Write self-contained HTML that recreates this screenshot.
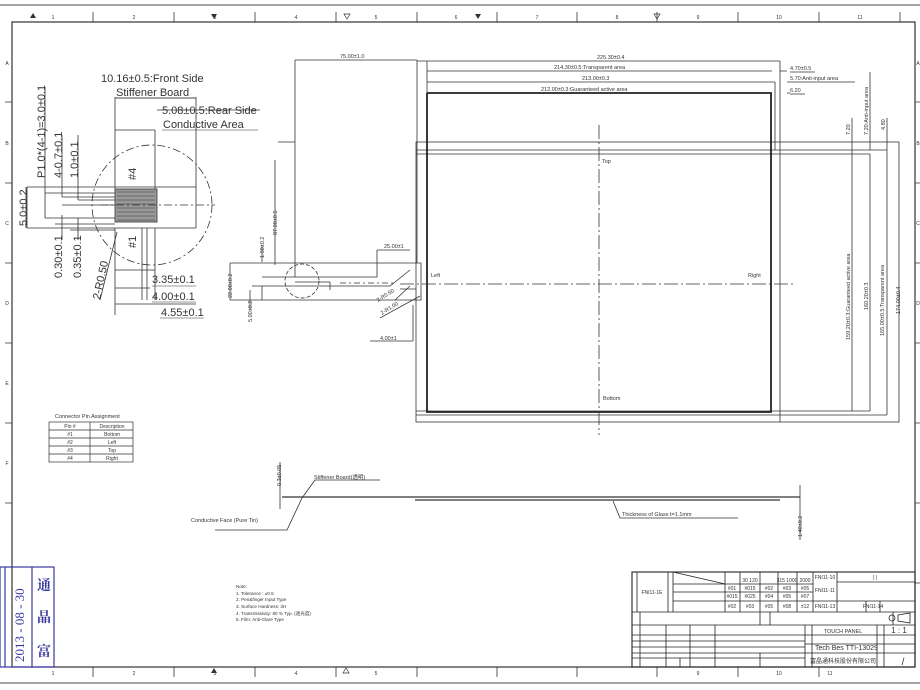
<!DOCTYPE html>
<html><head><meta charset="utf-8"><style>
html,body{margin:0;padding:0;background:#fff;}
svg{display:block;}
text{font-family:"Liberation Sans","Noto Sans CJK SC",sans-serif;fill:#333;}
</style></head><body>
<svg width="920" height="690" viewBox="0 0 920 690" xmlns="http://www.w3.org/2000/svg">
<rect width="920" height="690" fill="#fff"/>
<g stroke="#333" fill="none" stroke-width="0.8">
<line x1="0" y1="5" x2="920" y2="5" stroke="#888" stroke-width="1.5"/>
<line x1="0" y1="683" x2="920" y2="683" stroke="#888" stroke-width="1.5"/>
<rect x="12" y="22" width="903" height="645" stroke-width="1.2"/>
<path d="M93 12V22M174 12V22M255 12V22M336 12V22M417 12V22M497 12V22M577 12V22M657 12V22M738 12V22M819 12V22M900 12V22"/>
<path d="M93 667V677M174 667V677M255 667V677M336 667V677M417 667V677M497 667V677M577 667V677M657 667V677M738 667V677M819 667V677"/>
<path d="M5 102H12M5 183H12M5 263H12M5 343H12M5 423H12M5 503H12M915 102H920M915 183H920M915 263H920M915 343H920M915 423H920M915 503H920M915 583H920"/>
</g>
<g font-size="5" text-anchor="middle">
<text x="53" y="19">1</text><text x="134" y="19">2</text><text x="215" y="19">3</text><text x="296" y="19">4</text><text x="376" y="19">5</text><text x="456" y="19">6</text><text x="537" y="19">7</text><text x="617" y="19">8</text><text x="698" y="19">9</text><text x="779" y="19">10</text><text x="860" y="19">11</text>
<text x="53" y="675">1</text><text x="134" y="675">2</text><text x="215" y="675">3</text><text x="296" y="675">4</text><text x="376" y="675">5</text><text x="698" y="675">9</text><text x="779" y="675">10</text><text x="830" y="675">11</text>
<text x="7" y="65">A</text><text x="7" y="145">B</text><text x="7" y="225">C</text><text x="7" y="305">D</text><text x="7" y="385">E</text><text x="7" y="465">F</text>
<text x="918" y="65">A</text><text x="918" y="145">B</text><text x="918" y="225">C</text><text x="918" y="305">D</text>
</g>
<g fill="#333" stroke="none">
<path d="M33 13l3 5h-6z"/><path d="M211 14h6l-3 5z"/><path d="M344 14h6l-3 5z" fill="none" stroke="#333" stroke-width="0.7"/>
<path d="M475 14h6l-3 5z"/><path d="M654 14h6l-3 5z" fill="none" stroke="#333" stroke-width="0.7"/>
<path d="M211 673h6l-3 -5z"/><path d="M343 673h6l-3 -5z" fill="none" stroke="#333" stroke-width="0.7"/>
</g>

<!-- connector detail -->
<g stroke="#333" fill="none" stroke-width="0.8">
<circle cx="152" cy="205" r="60" stroke-dasharray="8 3 2 3"/>
<path d="M27 187H196M27 228H196M27 187V228"/>
<rect x="115" y="189" width="42" height="33" fill="#999"/>
<path d="M115 130V189M155 130V189M196 97V228M115 97V130M115 228V315M155 228V300M142 228V300M147 228V300"/>
<path d="M115 130H155M115 98H196M157 110H260" />
<path d="M100 205H215" stroke-dasharray="8 3 2 3"/>
<path d="M45 193H115M45 218H115M62 197H115M62 205H115M78 200H115M55 224H115M70 230H115"/>
<path d="M45 87V218M62 135V197M78 135V200M62 215V240M78 218V240M26 187V228"/>
<path d="M115 270H155M115 288H150M115 304H196M100 300L117 232"/>
</g>
<g stroke="#333" stroke-width="0.5">
<path d="M117 192l38 0M117 196l38 0M117 200l38 0M117 204l38 0M117 208l38 0M117 212l38 0M117 216l38 0M117 220l38 0"/>
</g>
<g font-size="11" fill="#333">
<text x="101" y="82">10.16±0.5:Front Side</text>
<text x="116" y="96">Stiffener Board</text>
<text x="162" y="114">5.08±0.5:Rear Side</text>
<text x="163" y="128">Conductive Area</text>
<text x="152" y="283">3.35±0.1</text>
<text x="152" y="300">4.00±0.1</text>
<text x="161" y="316">4.55±0.1</text>
<text transform="translate(27,226) rotate(-90)">5.0±0.2</text>
<text transform="translate(45,178) rotate(-90)">P1.0*(4-1)=3.0±0.1</text>
<text transform="translate(62,178) rotate(-90)">4-0.7±0.1</text>
<text transform="translate(78,178) rotate(-90)">1.0±0.1</text>
<text transform="translate(62,278) rotate(-90)">0.30±0.1</text>
<text transform="translate(81,278) rotate(-90)">0.35±0.1</text>
<text transform="translate(100,300) rotate(-78)">2-R0.50</text>
<text transform="translate(136,180) rotate(-90)">#4</text>
<text transform="translate(136,248) rotate(-90)">#1</text>
</g>
<g stroke="#333" stroke-width="0.6"><path d="M116 98H195M162 130H258M152 286H196M152 302H196M160 318H204"/></g>

<!-- tail detail -->
<g stroke="#333" fill="none" stroke-width="0.8">
<path d="M295 60V277M417 60V263M295 60H417M278 142H295"/>
<path d="M230 263H410M230 300H410M230 263V300M410 263H421V300H410"/>
<path d="M262 277H377V250M377 250H410M252 286H390L410 270"/>
<path d="M295 282H330M330 282V290M262 286V300M250 290V310"/>
<path d="M340 283H395" stroke-dasharray="6 3 2 3"/>
<path d="M400 289H416M395 300L410 286M380 318L420 296M275 265V160M262 245V262"/>
<circle cx="302" cy="281" r="17" stroke-dasharray="4 2"/>
<path d="M370 341H413M413 305V341"/>
</g>
<g font-size="5.5">
<text x="340" y="58">75.00±1.0</text>
<text x="384" y="248">25.00±1</text>
<text x="380" y="340">4.00±1</text>
<text transform="translate(378,302) rotate(-32)">2-R0.50</text>
<text transform="translate(382,315) rotate(-32)">2-R1.00</text>
<text transform="translate(277,235) rotate(-90)">87.00±0.5</text>
<text transform="translate(264,258) rotate(-90)">1.50±0.2</text>
<text transform="translate(232,298) rotate(-90)">22.00±0.2</text>
<text transform="translate(252,322) rotate(-90)">5.00±0.2</text>
</g>

<!-- main panel -->
<g stroke="#333" fill="none" stroke-width="0.8">
<path d="M417 61H780M427 71H772M427 82H775M427 93H772"/>
<path d="M780 61V142M775 82V150M780 71H787M787 82H790M787 93H790"/>
<rect x="416" y="142" width="483" height="280"/>
<path d="M416 150H887M416 154H870M780 142V422M887 150V415M870 154V411M852 150V411M416 411H870M416 415H887"/>
<path d="M852 118V150M870 72V150M887 118V150"/>
<path d="M790 72H815M790 82H855M790 94H805"/>
<path d="M427 61V93"/>
</g>
<g stroke="#222" fill="none" stroke-width="1.8">
<path d="M427 93V412H771V93H427"/>
</g>
<g stroke="#333" fill="none" stroke-width="0.8">
<path d="M599 125V435" stroke-dasharray="14 3 2 3"/>
<path d="M400 284H795" stroke-dasharray="14 3 2 3"/>
</g>
<g font-size="5.5">
<text x="597" y="59">225.30±0.4</text>
<text x="554" y="69">214.30±0.5:Transparent area</text>
<text x="582" y="80">213.00±0.3</text>
<text x="541" y="91">212.00±0.3:Guaranteed active area</text>
<text x="790" y="70">4.70±0.5</text>
<text x="790" y="80">5.70:Anti-input area</text>
<text x="790" y="92">6.20</text>
<text x="602" y="163">Top</text>
<text x="431" y="277">Left</text>
<text x="748" y="277">Right</text>
<text x="603" y="400">Bottom</text>
<text transform="translate(850,135) rotate(-90)">7.20</text>
<text transform="translate(868,135) rotate(-90)">7.20:Anti-input area</text>
<text transform="translate(885,130) rotate(-90)">4.80</text>
<text transform="translate(850,340) rotate(-90)">159.20±0.3:Guaranteed active area</text>
<text transform="translate(868,310) rotate(-90)">160.20±0.3</text>
<text transform="translate(884,336) rotate(-90)">165.00±0.5:Transparent area</text>
<text transform="translate(900,314) rotate(-90)">174.00±0.4</text>
</g>

<!-- side view -->
<g stroke="#333" fill="none" stroke-width="0.8">
<path d="M282 497H800M415 500H780" stroke-width="1.2"/>
<path d="M800 485V540M280 462V509M613 501L620 518H738"/>
<path d="M302 498L315 480H380M302 498L287 530H215"/>
</g>
<g font-size="5.5">
<text x="622" y="516">Thickness of Glass t=1.1mm</text>
<text x="314" y="479">Stiffener Board(透明)</text>
<text x="191" y="522">Conductive Face (Pure Tin)</text>
<text transform="translate(802,537) rotate(-90)">1.40±0.2</text>
<text transform="translate(281,486) rotate(-90)">0.3±0.05</text>
</g>

<text x="55" y="418" font-size="5.5">Connector Pin Assignment</text>
<g stroke="#333" fill="none" stroke-width="0.7">
<rect x="49" y="422" width="84" height="40"/>
<path d="M49 430H133M49 438H133M49 446H133M49 454H133M90 422V462"/>
</g>
<g font-size="5" text-anchor="middle">
<text x="70" y="428">Pin #</text><text x="112" y="428">Description</text>
<text x="70" y="436">#1</text><text x="112" y="436">Bottom</text>
<text x="70" y="444">#2</text><text x="112" y="444">Left</text>
<text x="70" y="452">#3</text><text x="112" y="452">Top</text>
<text x="70" y="460">#4</text><text x="112" y="460">Right</text>
</g>

<g font-size="4.6">
<text x="236" y="588">Note:</text>
<text x="236" y="595">1. Tolerance : ±0.5</text>
<text x="236" y="601">2. Pen&amp;finger Input Type</text>
<text x="236" y="608">3. Surface Hardness: 3H</text>
<text x="236" y="615">4. Transmissivity: 80 % Typ. (透光度)</text>
<text x="236" y="621">5. Film: Anti-Glare Type</text>
</g>

<!-- stamp -->
<g stroke="#3a3aa0" fill="none" stroke-width="1.2">
<rect x="0" y="567" width="54" height="100"/>
<path d="M5 567V667M32 567V667"/>
</g>
<text transform="translate(24,662) rotate(-90)" font-size="13" style="font-family:'Liberation Serif',serif;fill:#3a3aa0">2013 - 08 - 30</text>
<g font-size="14" font-weight="bold" text-anchor="middle">
<text x="44" y="590" style="fill:#3a3aa0;font-family:'Noto Serif CJK SC',serif">通</text><text x="44" y="622" style="fill:#3a3aa0;font-family:'Noto Serif CJK SC',serif">晶</text><text x="44" y="656" style="fill:#3a3aa0;font-family:'Noto Serif CJK SC',serif">富</text>
</g>

<!-- title block -->
<g stroke="#222" fill="none" stroke-width="0.8">
<rect x="632" y="572" width="283" height="95" stroke-width="1.1"/>
<path d="M632 612H915M632 625H915M632 635H805M632 641H805M632 647H805M632 653H915M632 658H805M805 635H915M805 644H915"/>
<path d="M637 572V612M668 572V612M673 572V612M725 572V612M740 572V612M760 572V612M778 572V612M797 572V612M813 572V612M837 572V612M673 584H813M673 592H813M673 601H915M837 582H915M866 601V612M880 601V612"/>
<path d="M640 612V625M760 612V625M770 612V625M893 612V625"/>
<path d="M640 625V667M666 625V667M690 625V667M715 625V667M805 625V667M812 625V667M877 625V667M884 625V667M760 653V667M680 658V667"/>
<path d="M673 572L725 584"/>
</g>
<g font-size="5" text-anchor="middle" fill="#222">
<text x="732" y="590">#01</text><text x="750" y="590">#015</text><text x="769" y="590">#02</text><text x="787" y="590">#03</text><text x="805" y="590">#05</text>
<text x="732" y="598">#015</text><text x="750" y="598">#025</text><text x="769" y="598">#04</text><text x="787" y="598">#05</text><text x="805" y="598">#07</text>
<text x="732" y="608">#02</text><text x="750" y="608">#03</text><text x="769" y="608">#05</text><text x="787" y="608">#08</text><text x="805" y="608">±12</text>
<text x="750" y="582">30 120</text><text x="787" y="582">315 1000</text><text x="805" y="582">2000</text>
<text x="825" y="579">FNI11-10</text><text x="825" y="592">FNI11-11</text><text x="825" y="608">FNI11-13</text>
<text x="652" y="594">FNI11-1E</text>
<text x="875" y="579">(          )</text>
<text x="873" y="608">FNI11-14</text>
<text x="843" y="633" font-size="5.5">TOUCH PANEL</text>
<text x="899" y="633" font-size="8">1 : 1</text>
<text x="843" y="663" font-size="6">富晶通科技股份有限公司</text>
<text x="903" y="665" font-size="10">/</text>
</g>
<text x="815" y="650" font-size="7" fill="#222">Tech Bes TTI-13029</text>
<g stroke="#222" fill="none" stroke-width="0.8"><circle cx="892" cy="618" r="3"/><path d="M898 615L910 613V623L898 621z"/></g>
</svg>
</body></html>
